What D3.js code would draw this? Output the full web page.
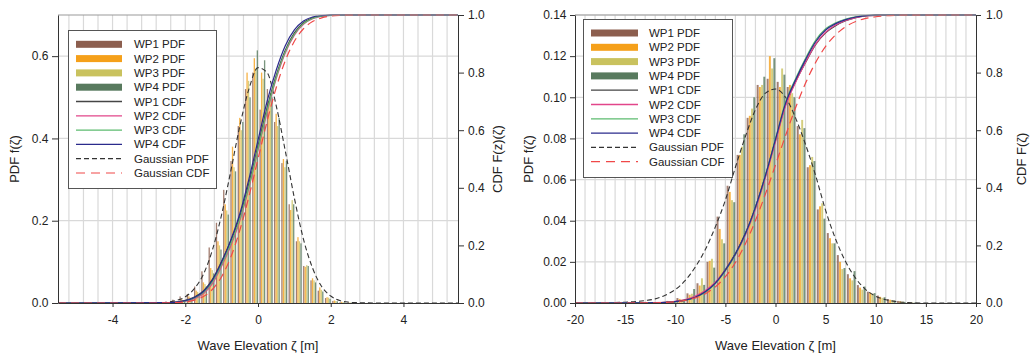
<!DOCTYPE html>
<html>
<head>
<meta charset="utf-8">
<script src="https://cdn.jsdelivr.net/npm/d3@7"></script>
<style>
  body { margin: 0; background: #fff; }
  svg text { font-family: "Liberation Sans", Arial, sans-serif; fill: #222; }
</style>
</head>
<body>
<svg id="chart" width="1033" height="356"></svg>
<script>
// ---------- series ----------
const seriesNames = ["WP1", "WP2", "WP3", "WP4"];
const pdfColors = ["#8c5e4e", "#f5a01a", "#c9c25e", "#587a5e"];
const cdfColors = ["#454545", "#e2468a", "#5dbb6f", "#2b2b8c"];

// ---------- left panel: histogram bins (bin start, width 0.2 m) ----------
const leftBinStart = [-2.6, -2.4, -2.2, -2.0, -1.8, -1.6, -1.4, -1.2, -1.0, -0.8, -0.6, -0.4, -0.2,
                      0.0, 0.2, 0.4, 0.6, 0.8, 1.0, 1.2, 1.4, 1.6, 1.8, 2.0, 2.2, 2.4];
const leftPdfWP1 = [0.003, 0.008, 0.016, 0.022, 0.040, 0.077, 0.135, 0.195, 0.275, 0.345, 0.430, 0.520, 0.560,
                    0.470, 0.520, 0.440, 0.340, 0.240, 0.150, 0.090, 0.055, 0.030, 0.012, 0.005, 0.002, 0.001];
const leftPdfWP2 = [0.002, 0.004, 0.009, 0.016, 0.030, 0.050, 0.085, 0.150, 0.240, 0.380, 0.450, 0.560, 0.595,
                    0.560, 0.490, 0.460, 0.350, 0.226, 0.160, 0.088, 0.060, 0.038, 0.014, 0.006, 0.003, 0.001];
const leftPdfWP3 = [0.001, 0.003, 0.007, 0.013, 0.027, 0.046, 0.080, 0.140, 0.225, 0.330, 0.420, 0.540, 0.570,
                    0.545, 0.510, 0.430, 0.330, 0.250, 0.150, 0.092, 0.055, 0.032, 0.013, 0.005, 0.002, 0.001];
const leftPdfWP4 = [0.001, 0.002, 0.005, 0.010, 0.022, 0.040, 0.072, 0.130, 0.215, 0.320, 0.440, 0.500, 0.614,
                    0.590, 0.500, 0.450, 0.345, 0.240, 0.145, 0.090, 0.050, 0.028, 0.010, 0.004, 0.002, 0.001];

// left panel: cumulative distributions
const leftCdfX   = [-5.5, -2.5, -2.25, -2.0, -1.75, -1.5, -1.25, -1.0, -0.75, -0.5, -0.25, 0.0,
                    0.25, 0.5, 0.75, 1.0, 1.25, 1.5, 1.75, 2.0, 2.5, 5.5];
const leftCdfWP1 = [0, 0.001, 0.003, 0.009, 0.021, 0.042, 0.083, 0.145, 0.215, 0.300, 0.415, 0.545,
                    0.678, 0.790, 0.878, 0.938, 0.973, 0.990, 0.997, 0.999, 1, 1];
const leftCdfWP2 = [0, 0.0005, 0.002, 0.006, 0.015, 0.032, 0.068, 0.128, 0.198, 0.285, 0.400, 0.530,
                    0.662, 0.778, 0.868, 0.930, 0.968, 0.987, 0.996, 0.999, 1, 1];
const leftCdfWP3 = [0, 0.001, 0.002, 0.007, 0.017, 0.036, 0.074, 0.134, 0.205, 0.292, 0.405, 0.535,
                    0.668, 0.783, 0.872, 0.933, 0.970, 0.988, 0.996, 0.999, 1, 1];
const leftCdfWP4 = [0, 0.001, 0.003, 0.008, 0.019, 0.040, 0.080, 0.142, 0.218, 0.310, 0.430, 0.565,
                    0.700, 0.808, 0.893, 0.948, 0.979, 0.993, 0.998, 1, 1, 1];
const leftGaussCdfX = [-5.5, -3.0, -2.5, -2.25, -2.0, -1.75, -1.5, -1.25, -1.0, -0.75, -0.5, -0.25, 0.0,
                       0.25, 0.5, 0.75, 1.0, 1.25, 1.5, 1.75, 2.0, 2.25, 2.5, 3.0, 5.5];
const leftGaussCdf  = [0, 0, 0.0004, 0.0013, 0.0038, 0.0098, 0.0228, 0.0478, 0.0912, 0.1587, 0.2525, 0.3694, 0.5,
                       0.6306, 0.7475, 0.8413, 0.9088, 0.9522, 0.9772, 0.9902, 0.9962, 0.9987, 0.9996, 1, 1];
const leftGaussPdfX = [-5.5, -3.0, -2.75, -2.5, -2.25, -2.0, -1.75, -1.5, -1.25, -1.0, -0.75, -0.5, -0.25, 0.0,
                       0.25, 0.5, 0.75, 1.0, 1.25, 1.5, 1.75, 2.0, 2.25, 2.5, 2.75, 3.0, 5.5];
const leftGaussPdf  = [0, 0.0003, 0.0008, 0.002, 0.006, 0.015, 0.035, 0.070, 0.130, 0.215, 0.320, 0.430, 0.520, 0.572,
                       0.560, 0.480, 0.370, 0.255, 0.155, 0.085, 0.040, 0.017, 0.006, 0.002, 0.0007, 0.0002, 0];

// ---------- right panel: histogram bins (bin start, width 1 m) ----------
const rightBinStart = [-11, -10, -9, -8, -7, -6, -5, -4, -3, -2, -1, 0, 1, 2, 3, 4, 5, 6, 7, 8, 9, 10, 11, 12, 13];
const rightPdfWP1 = [0.0010, 0.0024, 0.0047, 0.0096, 0.0200, 0.0420, 0.0570, 0.0720, 0.0900, 0.1060, 0.1090, 0.1075,
                     0.1050, 0.0860, 0.0660, 0.0455, 0.0340, 0.0233, 0.0140, 0.0087, 0.0055, 0.0036, 0.0019, 0.0010, 0.0004];
const rightPdfWP2 = [0.0008, 0.0020, 0.0040, 0.0085, 0.0205, 0.0360, 0.0540, 0.0720, 0.0910, 0.1050, 0.1200, 0.1050,
                     0.1060, 0.0820, 0.0670, 0.0470, 0.0315, 0.0200, 0.0120, 0.0075, 0.0050, 0.0030, 0.0016, 0.0008, 0.0003];
const rightPdfWP3 = [0.0006, 0.0016, 0.0045, 0.0120, 0.0215, 0.0310, 0.0500, 0.0760, 0.0945, 0.1060, 0.1140, 0.1140,
                     0.1020, 0.0890, 0.0710, 0.0485, 0.0290, 0.0165, 0.0110, 0.0065, 0.0045, 0.0025, 0.0013, 0.0006, 0.0002];
const rightPdfWP4 = [0.0005, 0.0012, 0.0068, 0.0088, 0.0172, 0.0290, 0.0490, 0.0820, 0.1000, 0.1100, 0.1190, 0.1110,
                     0.1000, 0.0850, 0.0690, 0.0410, 0.0290, 0.0170, 0.0155, 0.0080, 0.0048, 0.0028, 0.0012, 0.0005, 0.0002];

// right panel: cumulative distributions
const rightCdfX   = [-20, -14, -12, -10, -9, -8, -7, -6, -5, -4, -3, -2, -1, 0, 1, 2, 3, 4, 5, 6, 7, 8, 9, 10, 12, 20];
const rightCdfWP1 = [0, 0.0003, 0.001, 0.005, 0.010, 0.021, 0.040, 0.070, 0.116, 0.172, 0.242, 0.332, 0.442, 0.565,
                     0.688, 0.768, 0.835, 0.897, 0.938, 0.963, 0.980, 0.991, 0.997, 0.999, 1, 1];
const rightCdfWP2 = [0, 0.0003, 0.001, 0.006, 0.012, 0.024, 0.043, 0.072, 0.114, 0.168, 0.236, 0.325, 0.436, 0.560,
                     0.684, 0.766, 0.836, 0.899, 0.940, 0.965, 0.981, 0.991, 0.997, 0.999, 1, 1];
const rightCdfWP3 = [0, 0.0002, 0.001, 0.004, 0.009, 0.019, 0.037, 0.067, 0.112, 0.168, 0.240, 0.332, 0.444, 0.570,
                     0.697, 0.779, 0.850, 0.912, 0.952, 0.973, 0.986, 0.994, 0.998, 1, 1, 1];
const rightCdfWP4 = [0, 0.0002, 0.001, 0.005, 0.010, 0.020, 0.039, 0.069, 0.114, 0.170, 0.241, 0.333, 0.443, 0.568,
                     0.693, 0.774, 0.845, 0.907, 0.948, 0.970, 0.984, 0.993, 0.998, 1, 1, 1];
const rightGaussCdfX = [-20, -14, -12, -10, -9, -8, -7, -6, -5, -4, -3, -2, -1, 0, 1, 2, 3, 4, 5, 6, 7, 8, 9, 10,
                        11, 12, 13, 14, 20];
const rightGaussCdf  = [0, 0.0001, 0.0009, 0.0045, 0.0092, 0.0177, 0.0324, 0.0559, 0.0912, 0.1407, 0.206, 0.2864,
                        0.379, 0.4795, 0.5813, 0.6778, 0.7636, 0.8351, 0.8908, 0.9315, 0.9594, 0.9772, 0.988, 0.994,
                        0.9972, 0.9988, 0.9995, 0.9998, 1];
const rightGaussPdfX = [-20, -15, -13, -12, -11, -10, -9, -8, -7, -6, -5, -4, -3, -2, -1, 0, 1, 2, 3, 4, 5, 6, 7, 8,
                        9, 10, 11, 12, 13, 15, 20];
const rightGaussPdf  = [0, 0.0004, 0.0012, 0.002, 0.0038, 0.0065, 0.011, 0.0175, 0.026, 0.037, 0.050, 0.066, 0.081,
                        0.094, 0.102, 0.104, 0.100, 0.090, 0.077, 0.062, 0.045, 0.031, 0.020, 0.012, 0.0065, 0.0033,
                        0.0016, 0.0007, 0.0003, 0, 0];

// ---------- tick labels ----------
const leftXTicks = [-4, -2, 0, 2, 4];
const leftPdfTicks = [0, 0.2, 0.4, 0.6];
const rightXTicks = [-20, -15, -10, -5, 0, 5, 10, 15, 20];
const rightPdfTicks = [0, 0.02, 0.04, 0.06, 0.08, 0.10, 0.12, 0.14];
const cdfTicks = [0, 0.2, 0.4, 0.6, 0.8, 1.0];

const legendLabels = ["WP1 PDF", "WP2 PDF", "WP3 PDF", "WP4 PDF",
                      "WP1 CDF", "WP2 CDF", "WP3 CDF", "WP4 CDF",
                      "Gaussian PDF", "Gaussian CDF"];

const svg = d3.select("#chart");

const panels = [
  {
    id: "L", left: 58, right: 458, top: 15, bottom: 303,
    xDomain: [-5.5, 5.5], pdfDomain: [0, 0.7],
    xTicks: leftXTicks, pdfTicks: leftPdfTicks, pdfFmt: d3.format(".1f"),
    gridX: d3.range(-13, 14).map(k => k * 0.4),
    bins: leftBinStart, binWidth: 0.2, bandRange: [0.04, 0.2],
    pdf: [leftPdfWP1, leftPdfWP2, leftPdfWP3, leftPdfWP4],
    cdfX: leftCdfX, cdf: [leftCdfWP1, leftCdfWP2, leftCdfWP3, leftCdfWP4],
    gPdfX: leftGaussPdfX, gPdf: leftGaussPdf, gCdfX: leftGaussCdfX, gCdf: leftGaussCdf,
    leftTick: 6, rightTick: 6, rightPad: 4,
    leftTitleX: 14, rightTitleX: 497, rightTitle: "CDF F(z)(\u03B6)",
    legend: { x: 68, y: 30, w: 148, h: 158, swX: 76, swW: 46, textX: 134, row0: 44.3, step: 14.3 }
  },
  {
    id: "R", left: 575, right: 976, top: 15, bottom: 303,
    xDomain: [-20, 20], pdfDomain: [0, 0.14],
    xTicks: rightXTicks, pdfTicks: rightPdfTicks, pdfFmt: d3.format(".2f"),
    gridX: d3.range(-19, 20),
    bins: rightBinStart, binWidth: 1, bandRange: [0.12, 0.98],
    pdf: [rightPdfWP1, rightPdfWP2, rightPdfWP3, rightPdfWP4],
    cdfX: rightCdfX, cdf: [rightCdfWP1, rightCdfWP2, rightCdfWP3, rightCdfWP4],
    gPdfX: rightGaussPdfX, gPdf: rightGaussPdf, gCdfX: rightGaussCdfX, gCdf: rightGaussCdf,
    leftTick: 5, rightTick: 5, rightPad: 5,
    leftTitleX: 528, rightTitleX: 1021, rightTitle: "CDF F(\u03B6)",
    legend: { x: 583, y: 19, w: 149, h: 158, swX: 591, swW: 47, textX: 649, row0: 33, step: 14.3 }
  }
];

function drawPanel(p) {
  const g = svg.append("g").attr("class", "panel-" + p.id);
  const x = d3.scaleLinear().domain(p.xDomain).range([p.left, p.right]);
  const yP = d3.scaleLinear().domain(p.pdfDomain).range([p.bottom, p.top]);
  const yC = d3.scaleLinear().domain([0, 1]).range([p.bottom, p.top]);

  g.append("clipPath").attr("id", "clip-" + p.id)
    .append("rect").attr("x", p.left).attr("y", p.top - 1)
    .attr("width", p.right - p.left).attr("height", p.bottom - p.top + 1);

  // grid
  g.append("g").selectAll("line").data(p.gridX).join("line")
    .attr("x1", d => x(d)).attr("x2", d => x(d))
    .attr("y1", p.top).attr("y2", p.bottom)
    .attr("stroke", "#d9d9d9").attr("stroke-width", 1.2);
  g.append("g").selectAll("line").data(p.pdfTicks.slice(1)).join("line")
    .attr("x1", p.left).attr("x2", p.right)
    .attr("y1", d => yP(d)).attr("y2", d => yP(d))
    .attr("stroke", "#d9d9d9").attr("stroke-width", 1.2);

  // histogram bars, four series per bin
  const band = d3.scaleBand().domain(seriesNames).range(p.bandRange).paddingInner(0.12);
  const plot = g.append("g").attr("clip-path", `url(#clip-${p.id})`);
  seriesNames.forEach((name, i) => {
    plot.append("g").selectAll("rect")
      .data(p.bins.map((b, j) => ({ b, v: p.pdf[i][j] })))
      .join("rect")
      .attr("x", d => x(d.b + band(name)))
      .attr("width", d => x(d.b + band(name) + band.bandwidth()) - x(d.b + band(name)))
      .attr("y", d => yP(d.v))
      .attr("height", d => yP(0) - yP(d.v))
      .attr("fill", pdfColors[i]).attr("fill-opacity", 0.8);
  });

  const linePdf = d3.line().x(d => x(d[0])).y(d => yP(d[1])).curve(d3.curveMonotoneX);
  const lineCdf = d3.line().x(d => x(d[0])).y(d => yC(d[1])).curve(d3.curveMonotoneX);

  // Gaussian PDF
  plot.append("path")
    .datum(p.gPdfX.map((v, k) => [v, p.gPdf[k]]))
    .attr("d", linePdf).attr("fill", "none")
    .attr("stroke", "#333").attr("stroke-width", 1.1).attr("stroke-dasharray", "5,3");

  // measured CDFs
  seriesNames.forEach((name, i) => {
    plot.append("path")
      .datum(p.cdfX.map((v, k) => [v, p.cdf[i][k]]))
      .attr("d", lineCdf).attr("fill", "none")
      .attr("stroke", cdfColors[i]).attr("stroke-width", 1.2);
  });

  // Gaussian CDF
  plot.append("path")
    .datum(p.gCdfX.map((v, k) => [v, p.gCdf[k]]))
    .attr("d", lineCdf).attr("fill", "none")
    .attr("stroke", "#f04848").attr("stroke-width", 1.2).attr("stroke-dasharray", "8,5");

  // frame top
  g.append("line").attr("x1", p.left).attr("x2", p.right).attr("y1", p.top).attr("y2", p.top)
    .attr("stroke", "#999").attr("stroke-width", 1);

  // axes
  const styleAxis = sel => {
    sel.selectAll("path.domain").attr("stroke", "#333");
    sel.selectAll(".tick line").attr("stroke", "#333");
    sel.selectAll("text").attr("font-size", "12px").attr("fill", "#222")
      .attr("font-family", "Liberation Sans, Arial, sans-serif");
  };
  g.append("g").attr("transform", `translate(0,${p.bottom})`)
    .call(d3.axisBottom(x).tickValues(p.xTicks).tickSize(4).tickPadding(8).tickSizeOuter(0)
      .tickFormat(d => d < 0 ? "-" + Math.abs(d) : String(d)))
    .call(styleAxis);
  g.append("g").attr("transform", `translate(${p.left},0)`)
    .call(d3.axisLeft(yP).tickValues(p.pdfTicks).tickFormat(p.pdfFmt).tickSize(p.leftTick).tickPadding(3.5).tickSizeOuter(0))
    .call(styleAxis);
  g.append("g").attr("transform", `translate(${p.right},0)`)
    .call(d3.axisRight(yC).tickValues(cdfTicks).tickFormat(d3.format(".1f")).tickSize(p.rightTick).tickPadding(p.rightPad).tickSizeOuter(0))
    .call(styleAxis);

  // axis titles
  const midY = (p.top + p.bottom) / 2;
  g.append("text").attr("x", (p.left + p.right) / 2).attr("y", 350)
    .attr("text-anchor", "middle").attr("font-size", "13px").text("Wave Elevation \u03B6 [m]");
  g.append("text").attr("transform", `translate(${p.leftTitleX},${midY}) rotate(-90)`)
    .attr("text-anchor", "middle").attr("dy", "0.35em").attr("font-size", "13px").text("PDF f(\u03B6)");
  g.append("text").attr("transform", `translate(${p.rightTitleX},${midY}) rotate(-90)`)
    .attr("text-anchor", "middle").attr("dy", "0.35em").attr("font-size", "13px").text(p.rightTitle);

  // legend
  const L = p.legend;
  const lg = g.append("g");
  lg.append("rect").attr("x", L.x + 0.5).attr("y", L.y + 0.5).attr("width", L.w).attr("height", L.h)
    .attr("fill", "#fff").attr("stroke", "#555").attr("stroke-width", 1);
  legendLabels.forEach((label, k) => {
    const cy = L.row0 + k * L.step;
    if (k < 4) {
      lg.append("rect").attr("x", L.swX).attr("y", cy - 3.5).attr("width", L.swW).attr("height", 7)
        .attr("fill", pdfColors[k]);
    } else if (k < 8) {
      lg.append("line").attr("x1", L.swX).attr("x2", L.swX + L.swW).attr("y1", cy).attr("y2", cy)
        .attr("stroke", cdfColors[k - 4]).attr("stroke-width", 1.3);
    } else if (k === 8) {
      lg.append("line").attr("x1", L.swX).attr("x2", L.swX + L.swW).attr("y1", cy).attr("y2", cy)
        .attr("stroke", "#333").attr("stroke-width", 1.2).attr("stroke-dasharray", "5,3");
    } else {
      lg.append("line").attr("x1", L.swX).attr("x2", L.swX + L.swW).attr("y1", cy).attr("y2", cy)
        .attr("stroke", "#f04848").attr("stroke-width", 1.2).attr("stroke-dasharray", "9,6");
    }
    lg.append("text").attr("x", L.textX).attr("y", cy).attr("dy", "0.35em")
      .attr("font-size", "11.5px").text(label);
  });
}

panels.forEach(drawPanel);
</script>
</body>
</html>
